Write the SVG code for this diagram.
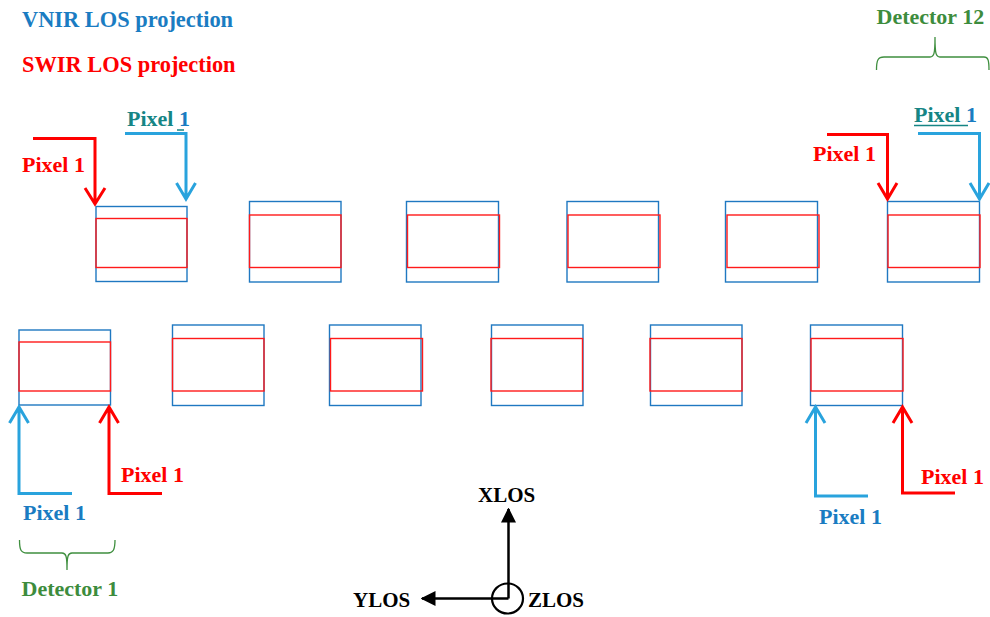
<svg xmlns="http://www.w3.org/2000/svg" width="990" height="617" viewBox="0 0 990 617">
  <style>
    text { font-family: "Liberation Serif", "DejaVu Serif", serif; font-weight: bold; font-size: 22px; }
    .vnir { fill: none; stroke: #1f78c1; stroke-width: 1.4; }
    .swir { fill: none; stroke: #ff1a1a; stroke-width: 1.4; }
    .arr-b { fill: none; stroke: #29a3dd; stroke-width: 3; stroke-linejoin: miter; }
    .arr-r { fill: none; stroke: #ff0000; stroke-width: 3; stroke-linejoin: miter; }
    .brace { fill: none; stroke: #3f8f3f; stroke-width: 1.3; }
    .t-blue { fill: #1a7cc2; }
    .t-red { fill: #ff0000; }
    .t-teal { fill: #168585; }
    .t-green { fill: #3d8c3d; }
    .t-black { fill: #000; font-size: 21px; }
    .axis { fill: none; stroke: #000; stroke-width: 2.5; }
  </style>
  <defs>
    <marker id="axhead" viewBox="0 0 10 10" refX="9" refY="5" markerWidth="6" markerHeight="6" markerUnits="strokeWidth" orient="auto">
      <path d="M0,0 L10,5 L0,10 z" fill="#000"/>
    </marker>
  </defs>

  <!-- legend -->
  <g id="legend">
    <text x="22" y="27" class="t-blue" style="font-size:22.4px">VNIR LOS projection</text>
    <text x="22" y="72" class="t-red" style="font-size:22.4px">SWIR LOS projection</text>
  </g>

  <!-- upper row of detectors -->
  <g id="det-top-1"><rect class="vnir" x="96" y="206.5" width="91" height="75"/><rect class="swir" x="96" y="218.5" width="91" height="49"/></g>
  <g id="det-top-2"><rect class="vnir" x="249.5" y="201.5" width="91.5" height="80.5"/><rect class="swir" x="249.5" y="215" width="91.5" height="52.5"/></g>
  <g id="det-top-3"><rect class="vnir" x="406.5" y="201.5" width="92" height="80.5"/><rect class="swir" x="407.5" y="215" width="92" height="52.5"/></g>
  <g id="det-top-4"><rect class="vnir" x="567" y="201.5" width="91.5" height="80.5"/><rect class="swir" x="568" y="215" width="92" height="52.5"/></g>
  <g id="det-top-5"><rect class="vnir" x="725.5" y="201.5" width="92" height="80.5"/><rect class="swir" x="727" y="215" width="92" height="52.5"/></g>
  <g id="det-top-6"><rect class="vnir" x="887.5" y="201.5" width="92" height="80.5"/><rect class="swir" x="888" y="215" width="92" height="52.5"/></g>

  <!-- lower row of detectors -->
  <g id="det-bot-1"><rect class="vnir" x="19" y="330" width="91.5" height="75"/><rect class="swir" x="19" y="342" width="91.5" height="49"/></g>
  <g id="det-bot-2"><rect class="vnir" x="172.5" y="325" width="91.5" height="80.5"/><rect class="swir" x="172.5" y="338.5" width="91.5" height="52.5"/></g>
  <g id="det-bot-3"><rect class="vnir" x="329.5" y="325" width="91.5" height="80.5"/><rect class="swir" x="330.5" y="338.5" width="92" height="52.5"/></g>
  <g id="det-bot-4"><rect class="vnir" x="491.5" y="325" width="91.5" height="80.5"/><rect class="swir" x="491" y="338.5" width="91.5" height="52.5"/></g>
  <g id="det-bot-5"><rect class="vnir" x="650.5" y="325" width="91.5" height="80.5"/><rect class="swir" x="650" y="338.5" width="92" height="52.5"/></g>
  <g id="det-bot-6"><rect class="vnir" x="810.5" y="325" width="92" height="80.5"/><rect class="swir" x="811" y="338.5" width="92" height="52.5"/></g>

  <!-- pixel 1 pointers and detector braces -->
  <g id="connectors">
    <!-- detector 1, upper left -->
    <path class="arr-r" d="M33,138.5 H95 V204 M85,188 L95,204 L105,188"/>
    <path class="arr-b" d="M125,133.5 H186 V199 M176.5,183 L186,199 L195.5,183"/>
    <!-- detector 12, upper right -->
    <path class="arr-r" d="M827,134.5 H887.5 V199 M878,183 L887.5,199 L897,183"/>
    <path class="arr-b" d="M918,133.5 H979.5 V199 M970,183 L979.5,199 L989,183"/>
    <!-- detector 1, lower left -->
    <path class="arr-b" d="M72,493.5 H19 V407 M9.5,423 L19,407 L28.5,423"/>
    <path class="arr-r" d="M162,493.5 H109 V407 M99.5,423 L109,407 L118.5,423"/>
    <!-- detector 12, lower right -->
    <path class="arr-b" d="M868,496 H815.5 V407 M806,423 L815.5,407 L825,423"/>
    <path class="arr-r" d="M955,493 H902.5 V407 M893,423 L902.5,407 L912,423"/>
    <!-- braces -->
    <path class="brace" d="M876.5,70 C876.5,60 878,57 884,57 H930 C934,57 935,54 935,37 C935,54 936,57 940,57 H984 C988,57 989,60 989,70"/>
    <path class="brace" d="M19.5,540 C19.5,550 21,553 27,553 H62 C66,553 67,556 67,570 C67,556 68,553 72,553 H108 C113,553 115,550 115,540"/>
  </g>

  <!-- labels -->
  <g id="labels">
    <text x="22" y="172" class="t-red">Pixel 1</text>
    <text x="127" y="126" class="t-teal">Pixel <tspan class="t-blue">1</tspan></text>
    <line x1="177" y1="130" x2="184" y2="130" stroke="#168585" stroke-width="1.5"/>
    <text x="813" y="161" class="t-red">Pixel 1</text>
    <text x="914" y="122" class="t-teal">Pixel <tspan class="t-blue">1</tspan></text>
    <line x1="914" y1="125.5" x2="968" y2="125.5" stroke="#168585" stroke-width="1.5"/>
    <text x="121" y="482" class="t-red">Pixel 1</text>
    <text x="23" y="520" class="t-blue">Pixel 1</text>
    <text x="921" y="484" class="t-red">Pixel 1</text>
    <text x="819" y="524" class="t-blue">Pixel 1</text>
    <text x="876.5" y="24" class="t-green">Detector 12</text>
    <text x="21.5" y="596" class="t-green">Detector 1</text>
  </g>

  <!-- line-of-sight axes -->
  <g id="axes">
    <line class="axis" x1="508.5" y1="598.5" x2="508.5" y2="509" marker-end="url(#axhead)"/>
    <line class="axis" x1="508.5" y1="598.5" x2="422" y2="598.5" marker-end="url(#axhead)"/>
    <ellipse cx="507.5" cy="598.5" rx="15.5" ry="15" fill="none" stroke="#000" stroke-width="2.2"/>
    <text x="478" y="502" class="t-black">XLOS</text>
    <text x="353" y="607" class="t-black">YLOS</text>
    <text x="528" y="607" class="t-black">ZLOS</text>
  </g>
</svg>
